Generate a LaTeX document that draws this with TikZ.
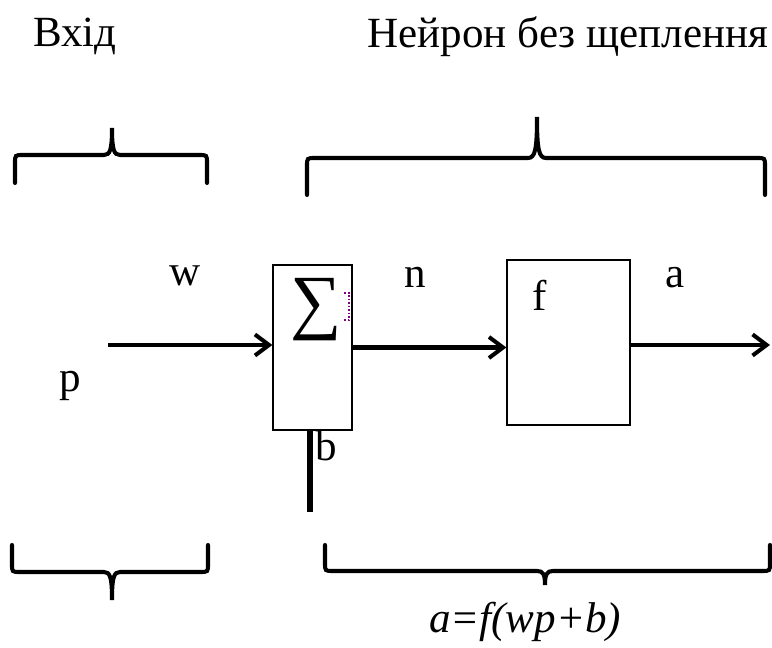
\documentclass[tikz,border=0pt]{standalone}
\usepackage{fontspec}
\setmainfont{Liberation Serif}
\usetikzlibrary{arrows.meta}
\begin{document}
\begin{tikzpicture}[x=0.02cm,y=-0.02cm,
    txt/.style={anchor=base, inner sep=0pt, font=\fontsize{24.5}{28}\selectfont},
    blockbox/.style={draw, line width=0.7pt, inner sep=0pt},
    sig/.style={->, line width=2.3pt, >={Straight Barb[length=8pt,width=12pt,line width=2.3pt]}},
    brace/.style={line width=2.3pt, line cap=round}]
        \useasboundingbox (0,0) rectangle (772,648);

        % titles
        \node[txt] (inp) at (75,47) {Вхід};
        \node[txt] (neur) at (568,48) {Нейрон без щеплення};

        % upper braces
        \draw[brace] (15,183) -- (15,163) .. controls (15,155) .. (23,155) -- (104,155)
            .. controls (110,155) and (112,150) .. (112,128) .. controls (112,150) and (114,155) .. (120,155)
            -- (199,155) .. controls (207,155) .. (207,163) -- (207,183);
        \draw[brace] (307,195) -- (307,166) .. controls (307,158) .. (315,158) -- (528,158)
            .. controls (535,158) and (537,150) .. (537,117) .. controls (537,150) and (539,158) .. (546,158)
            -- (757,158) .. controls (765,158) .. (765,166) -- (765,195);

        % blocks
        \node[blockbox, minimum width=1.58cm, minimum height=3.3cm] (sum) at (312.5,347.5) {};
        \node[font=\fontsize{41}{41}\selectfont, inner sep=0pt] (sigma) at (316,310) {∑};
        \draw[densely dotted, violet, line width=1pt] (344,293) -- (349,293) -- (349,320) -- (344,320);
        \node[blockbox, minimum width=2.46cm, minimum height=3.3cm] (fbox) at (568.5,342.5) {};

        % signals
        \coordinate (pin) at (108,345);
        \coordinate (aout) at (770,345);
        \coordinate (bin) at (310,512);
        \draw[sig] (pin) -- (sum.west |- pin);
        \draw[sig] (sum.east) -- (sum.east -| fbox.west);
        \draw[sig] (fbox.east |- aout) -- (aout);
        \draw[line width=3.5pt] (bin) -- (bin |- sum.south);

        \node[txt] (p) at (70,392) {p};
        \node[txt] (w) at (185,286) {w};
        \node[txt] (n) at (415,288) {n};
        \node[txt] (f) at (540,311) {f};
        \node[txt] (a) at (675,288) {a};
        \node[txt] (b) at (326,461) {b};

        % lower braces
        \draw[brace] (12,545) -- (12,564) .. controls (12,572) .. (20,572) -- (104,572)
            .. controls (110,572) and (112,577) .. (112,600) .. controls (112,577) and (114,572) .. (120,572)
            -- (200,572) .. controls (208,572) .. (208,564) -- (208,545);
        \draw[brace] (325,545) -- (325,563) .. controls (325,571) .. (333,571) -- (537,571)
            .. controls (543,571) and (545,574) .. (545,585) .. controls (545,574) and (547,571) .. (553,571)
            -- (762,571) .. controls (770,571) .. (770,563) -- (770,545);

        \node[txt] (eq) at (525,633) {\textit{a=f(wp+b)}};
    \end{tikzpicture}
\end{document}
